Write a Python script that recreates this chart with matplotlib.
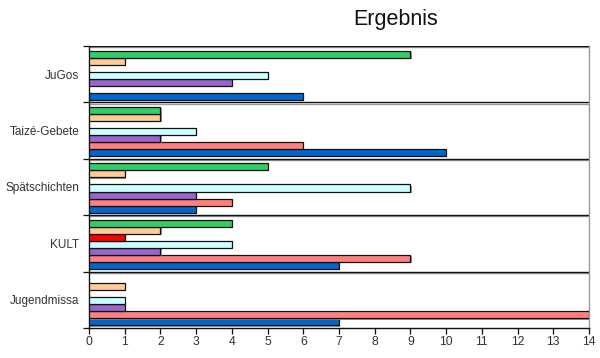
import numpy as np
import matplotlib
matplotlib.use("Agg")
import matplotlib.pyplot as plt
import matplotlib.patheffects as pe

plt.rcParams['font.family'] = ['Liberation Sans', 'DejaVu Sans']

categories = ["Jugendmissa", "KULT", "Spätschichten", "Taizé-Gebete", "JuGos"]
# series listed bottom-to-top within each category group
blue   = [7, 7, 3, 10, 6]
pink   = [14, 9, 4, 6, 0]
purple = [1, 2, 3, 2, 4]
cyan   = [1, 4, 9, 3, 5]
red    = [0, 1, 0, 0, 0]
peach  = [1, 2, 1, 2, 1]
green  = [0, 4, 5, 2, 9]
series = [blue, pink, purple, cyan, red, peach, green]
colors = ["#0066CC", "#FF8080", "#9966CC", "#CCFFFF", "#FF0000", "#FFCC99", "#33CC66"]
xticks = list(range(0, 15))

fig = plt.figure(figsize=(6, 3.58), dpi=100)
ax = fig.add_axes([89/600, 30/358, 500/600, 282/358])

slot = 0.125
base = 0.045
shadow = [pe.SimplePatchShadow(offset=(0.8, -0.8), shadow_rgbFace='#888888', alpha=0.9), pe.Normal()]
for k, (vals, c) in enumerate(zip(series, colors)):
    ys = [i - 0.5 + base + slot * (k + 0.5) for i in range(len(categories))]
    pairs = [(y, v) for y, v in zip(ys, vals) if v > 0]
    if pairs:
        yy, vv = zip(*pairs)
        ax.barh(yy, vv, height=slot, color=c, edgecolor='#111111', linewidth=0.9,
                path_effects=shadow, zorder=3)

ax.set_xlim(0, 14)
ax.set_ylim(-0.5, len(categories) - 0.5)
ax.set_xticks(xticks)
ax.set_xticklabels([str(t) for t in xticks], fontsize=8.7, color='#333333')
ax.set_yticks(range(len(categories)))
ax.set_yticklabels(categories, fontsize=8.5, color='#333333')
ax.tick_params(axis='y', which='major', length=0, pad=7)
ax.set_yticks([i - 0.5 for i in range(len(categories) + 1)], minor=True)
ax.tick_params(axis='y', which='minor', length=4, width=0.9, color='#111111')
ax.tick_params(axis='x', length=4, width=0.9, color='#111111', pad=2)

for i in range(len(categories)):
    ax.axhline(i + 0.5, color='#111111', linewidth=1.0, zorder=2,
               path_effects=[pe.SimpleLineShadow(offset=(0, -0.8), shadow_color='#999999', alpha=1), pe.Normal()])

for s in ['left', 'bottom']:
    ax.spines[s].set_color('#111111')
    ax.spines[s].set_linewidth(1.0)
ax.spines['top'].set_visible(False)
ax.spines['right'].set_color('#999999')
ax.spines['right'].set_linewidth(1.0)

fig.text(396/600, 1 - 20/358, "Ergebnis", fontsize=15.5, ha='center', va='center', color='#111111')

fig.savefig("out.png", dpi=100)
